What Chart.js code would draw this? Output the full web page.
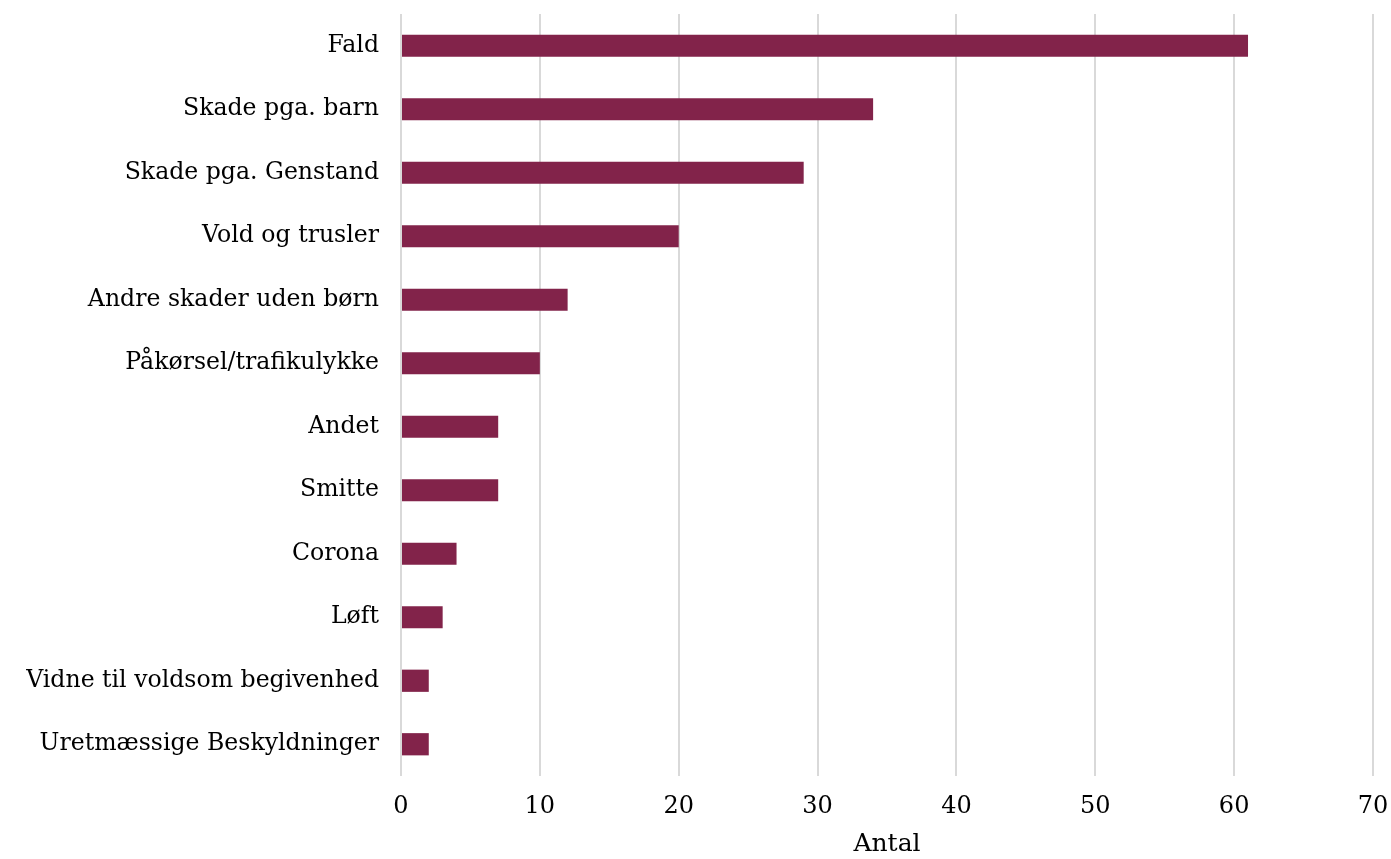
<!DOCTYPE html>
<html>
<head>
<meta charset="utf-8">
<script src="https://cdn.jsdelivr.net/npm/chart.js@4"></script>
<style>
  html, body { margin: 0; padding: 0; background: #fff; }
  #wrap { width: 1391px; height: 859px; }
</style>
</head>
<body>
<div id="wrap"><canvas id="skadeChart"></canvas></div>
<script>
const categories = [
    'Fald',
    'Skade pga. barn',
    'Skade pga. Genstand',
    'Vold og trusler',
    'Andre skader uden børn',
    'Påkørsel/trafikulykke',
    'Andet',
    'Smitte',
    'Corona',
    'Løft',
    'Vidne til voldsom begivenhed',
    'Uretmæssige Beskyldninger'
];
const antal = [61, 34, 29, 20, 12, 10, 7, 7, 4, 3, 2, 2];
const xTicks = [0, 10, 20, 30, 40, 50, 60, 70];

Chart.defaults.font.family = "'DejaVu Serif', serif";
Chart.defaults.color = '#000';

const ctx = document.getElementById('skadeChart').getContext('2d');

// config
const config = {
    type: 'bar',
    data: {
        labels: categories,
        datasets: [{
            label: 'Antal',
            data: antal,
            backgroundColor: '#82234A',
            borderWidth: 0,
            barPercentage: 0.35,
            categoryPercentage: 1
        }]
    },
    options: {
        indexAxis: 'y',
        responsive: true,
        maintainAspectRatio: false,
        animation: false,
        layout: {
            padding: { top: 14, right: 18, left: 0, bottom: 0 }
        },
        plugins: {
            legend: { display: false },
            tooltip: { enabled: false }
        },
        scales: {
            x: {
                min: 0,
                max: 70,
                afterBuildTicks: (scale) => {
                    scale.ticks = xTicks.map(v => ({ value: v }));
                },
                grid: {
                    color: '#d9d9d9',
                    lineWidth: 2,
                    drawTicks: false
                },
                border: { display: false },
                ticks: {
                    padding: 16,
                    font: { size: 24 }
                },
                title: {
                    display: true,
                    text: 'Antal',
                    font: { size: 25 },
                    padding: { top: 10, bottom: 0 }
                },
                afterFit: (scale) => {
                    scale.height = 83;
                    scale.paddingLeft = 0;
                    scale.paddingRight = 0;
                }
            },
            y: {
                grid: { display: false, drawTicks: false },
                border: { display: false },
                ticks: {
                    padding: 22,
                    font: { size: 23.6 }
                },
                afterFit: (scale) => {
                    scale.width = 401;
                    scale.paddingTop = 0;
                    scale.paddingBottom = 0;
                }
            }
        }
    }
};

var skadeChart = new Chart(ctx, config);
</script>
</body>
</html>
